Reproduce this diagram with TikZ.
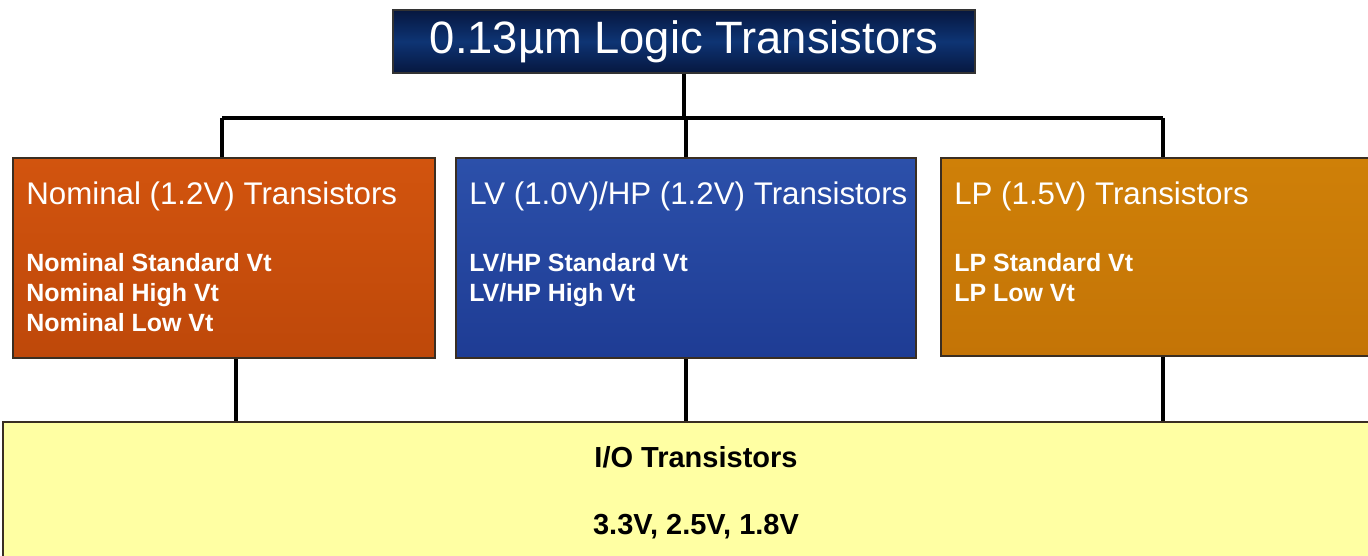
\documentclass[tikz,border=0pt]{standalone}
\usepackage{fontspec}
\setmainfont{Liberation Sans}

\definecolor{navydark}{HTML}{06173F}
\definecolor{navylight}{HTML}{0E3474}
\definecolor{edgebrown}{HTML}{3A2E22}
\definecolor{nomtop}{HTML}{D2540E}
\definecolor{nommid}{HTML}{FF6A05}
\definecolor{nombot}{HTML}{BE480A}
\definecolor{lvtop}{HTML}{2C50AA}
\definecolor{lvmid}{HTML}{3C68D0}
\definecolor{lvbot}{HTML}{1E3C94}
\definecolor{lptop}{HTML}{CF8008}
\definecolor{lpmid}{HTML}{FFA010}
\definecolor{lpbot}{HTML}{C47406}
\definecolor{iofill}{HTML}{FFFFA3}

\tikzset{
  topbox/.style={draw=black!80, line width=1pt, top color=navydark, bottom color=navydark,
    middle color=navylight, text=white, font=\fontsize{25.8}{30}\selectfont, inner sep=0pt},
  groupbox/.style={draw=edgebrown, line width=1.2pt, minimum height=4cm, inner sep=0pt},
  boxhead/.style={text=white, font=\fontsize{17.8}{21}\selectfont, inner sep=0pt, anchor=base west},
  boxitem/.style={text=white, font=\bfseries\fontsize{14.2}{17}\selectfont, inner sep=0pt, anchor=base west},
  iotext/.style={font=\bfseries\fontsize{16.5}{20}\selectfont, inner sep=0pt, anchor=base},
  wire/.style={line width=2.6pt}
}

\begin{document}
\begin{tikzpicture}
    \useasboundingbox (0,0) rectangle (27.36,-11.12);

    % Draw nodes
    \node[topbox, minimum width=11.64cm, minimum height=1.26cm] (logic) at (13.68,-0.83) {0.13µm Logic Transistors};

    \node[groupbox, minimum width=8.44cm, top color=nomtop, middle color=nommid, bottom color=nombot] (nom) at (4.48,-5.16) {};
    \node[groupbox, minimum width=9.2cm, top color=lvtop, middle color=lvmid, bottom color=lvbot] (lv) at (13.72,-5.16) {};
    \node[groupbox, minimum width=8.7cm, minimum height=3.96cm, top color=lptop, middle color=lpmid, bottom color=lpbot] (lp) at (23.17,-5.14) {};

    \node[draw=edgebrown, line width=1.2pt, fill=iofill, minimum width=27.6cm, minimum height=3.4cm, inner sep=0pt] (io) at (13.86,-10.14) {};

    % Box texts
    \node[boxhead] (nomhead) at ([xshift=0.28cm, yshift=-0.96cm]nom.north west) {Nominal (1.2V) Transistors};
    \foreach \t [count=\i] in {Nominal Standard Vt, Nominal High Vt, Nominal Low Vt}
        \node[boxitem] (nomitem\i) at ([xshift=0.28cm, yshift={-2.3cm-(\i-1)*0.6cm}]nom.north west) {\t};

    \node[boxhead] (lvhead) at ([xshift=0.28cm, yshift=-0.96cm]lv.north west) {LV (1.0V)/HP (1.2V) Transistors};
    \foreach \t [count=\i] in {LV/HP Standard Vt, LV/HP High Vt}
        \node[boxitem] (lvitem\i) at ([xshift=0.28cm, yshift={-2.3cm-(\i-1)*0.6cm}]lv.north west) {\t};

    \node[boxhead] (lphead) at ([xshift=0.28cm, yshift=-0.96cm]lp.north west) {LP (1.5V) Transistors};
    \foreach \t [count=\i] in {LP Standard Vt, LP Low Vt}
        \node[boxitem] (lpitem\i) at ([xshift=0.28cm, yshift={-2.3cm-(\i-1)*0.6cm}]lp.north west) {\t};

    \node[iotext] (iohead) at (13.92,-9.34) {I/O Transistors};
    \node[iotext] (iovolt) at (13.92,-10.68) {3.3V, 2.5V, 1.8V};

    % Draw connections
    \coordinate (busL) at (4.44,-2.36);
    \coordinate (busR) at (23.26,-2.36);
    \draw[wire] (logic.south) -- (logic.south |- busL);
    \draw[wire] (busL) -- (busR);
    \draw[wire] (busL) -- (busL |- nom.north);
    \draw[wire] (lv.north |- busL) -- (lv.north);
    \draw[wire] (busR) -- (busR |- lp.north);

    \coordinate (nomout) at ([xshift=0.24cm]nom.south);
    \coordinate (lpout) at ([xshift=0.09cm]lp.south);
    \draw[wire] (nomout) -- (nomout |- io.north);
    \draw[wire] (lv.south) -- (lv.south |- io.north);
    \draw[wire] (lpout) -- (lpout |- io.north);
\end{tikzpicture}
\end{document}
